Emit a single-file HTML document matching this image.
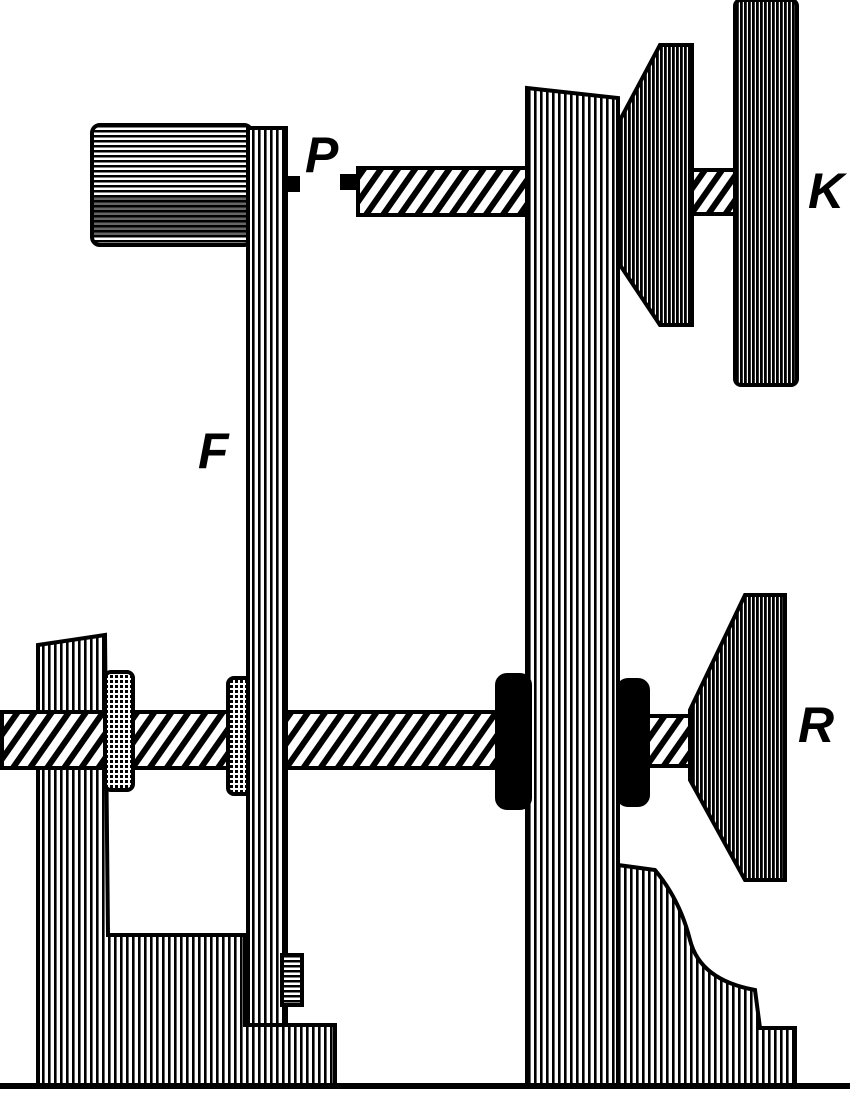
<!DOCTYPE html>
<html><head><meta charset="utf-8"><style>
html,body{margin:0;padding:0;background:#fff;}
svg{display:block;}
text{font-family:"Liberation Sans",sans-serif;font-weight:bold;font-style:italic;font-size:50px;fill:#000;}
</style></head><body>
<svg width="850" height="1094" viewBox="0 0 850 1094" xmlns="http://www.w3.org/2000/svg">
<defs>
<pattern id="v" width="6" height="10" patternUnits="userSpaceOnUse"><rect width="6" height="10" fill="#fff"/><rect x="0" width="2.6" height="10" fill="#000"/></pattern>
<pattern id="vd" width="4" height="10" patternUnits="userSpaceOnUse"><rect width="4" height="10" fill="#fff"/><rect x="0" width="2.8" height="10" fill="#000"/></pattern>
<pattern id="d" width="14" height="14" patternUnits="userSpaceOnUse" patternTransform="rotate(35)"><rect width="14" height="14" fill="#fff"/><rect width="6" height="14" fill="#000"/></pattern>
<pattern id="h" width="10" height="5" patternUnits="userSpaceOnUse"><rect width="10" height="5" fill="#fff"/><rect width="10" height="2.5" fill="#000"/></pattern>
<pattern id="g" width="5" height="5" patternUnits="userSpaceOnUse"><rect width="5" height="5" fill="#fff"/><rect width="3" height="3" fill="#000"/></pattern>
</defs>
<g stroke="#000" stroke-width="4">
<path d="M38 645 L105 635 L108 935 L245 935 L245 1025 L335 1025 L335 1085 L38 1085 Z" fill="url(#v)"/>
<path d="M618 865 L655 870 Q680 900 690 940 Q700 980 755 990 L760 1028 L795 1028 L795 1085 L618 1085 Z" fill="url(#v)"/>
<rect x="2" y="712" width="500" height="56" fill="url(#d)"/>
<rect x="640" y="716" width="60" height="50" fill="url(#d)"/>
<rect x="358" y="168" width="172" height="47" fill="url(#d)"/>
<rect x="690" y="170" width="45" height="44" fill="url(#d)"/>
<rect x="105" y="672" width="28" height="118" rx="6" fill="url(#g)"/>
<rect x="228" y="678" width="24" height="116" rx="6" fill="url(#g)"/>
<rect x="92" y="125" width="160" height="120" rx="8" fill="url(#h)"/>
<rect x="94" y="195" width="156" height="40" fill="#000" stroke="none" opacity="0.6"/>
<rect x="248" y="128" width="38" height="897" fill="url(#v)"/>
<rect x="282" y="955" width="20" height="50" fill="url(#h)"/>
<path d="M527 88 L618 98 L618 1085 L527 1085 Z" fill="url(#v)"/>
<rect x="497" y="675" width="33" height="133" rx="10" fill="#000"/>
<rect x="618" y="680" width="30" height="125" rx="10" fill="#000"/>
<path d="M660 45 L692 45 L692 325 L660 325 L620 265 L620 120 Z" fill="url(#vd)"/>
<rect x="735" y="0" width="62" height="385" rx="6" fill="url(#vd)"/>
<path d="M745 595 L785 595 L785 880 L745 880 L690 780 L690 710 Z" fill="url(#vd)"/>
<rect x="286" y="178" width="12" height="12" fill="#000"/>
<rect x="342" y="176" width="16" height="12" fill="#000"/>
</g>
<rect x="0" y="1083" width="850" height="6" fill="#000"/>
<text x="305" y="172">P</text>
<text x="808" y="208">K</text>
<text x="198" y="468">F</text>
<text x="798" y="742">R</text>
</svg>
</body></html>
